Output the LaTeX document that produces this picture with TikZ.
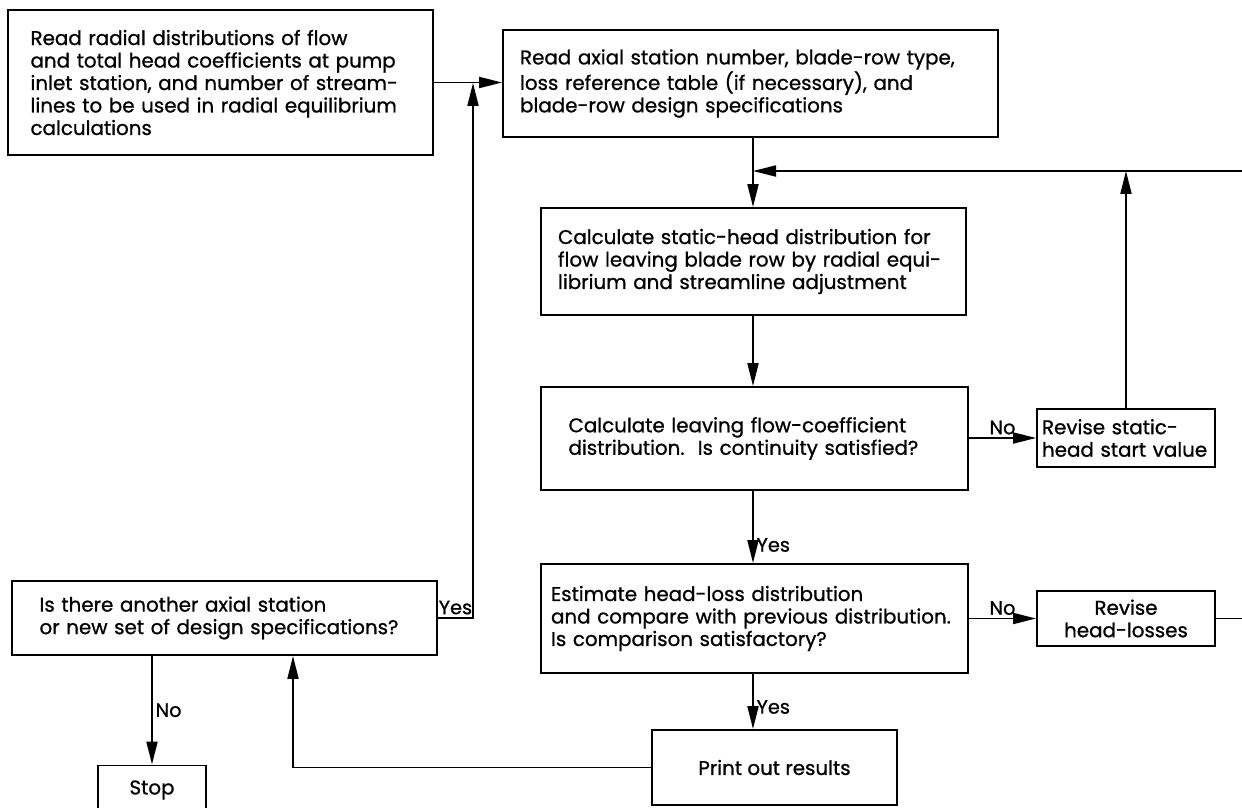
\documentclass[tikz,border=0pt]{standalone}
\usepackage{fontspec}
\setmainfont{Poppins}[FakeBold=0.9]
\usetikzlibrary{arrows.meta,positioning}

\begin{document}
\begin{tikzpicture}[
    x=0.02cm, y=-0.02cm,
    box/.style={draw, line width=1.1pt, align=left, inner ysep=0pt, font=\fontsize{11.3}{12.8}\selectfont},
    cbox/.style={box, align=center, inner xsep=0pt},
    lbl/.style={font=\fontsize{11}{12}\selectfont, inner sep=1.5pt},
    arr/.style={-{Triangle[length=0.46cm,width=0.22cm]}, line width=1.1pt}
]
\useasboundingbox (0,0) rectangle (1242,808);

\node[box, text width=7.6cm, inner xsep=0.45cm, minimum height=2.9cm] (read) at (220.5,82.5)
  {Read radial distributions of flow\\and total head coefficients at pump\\inlet station, and number of stream-\\lines to be used in radial equilibrium\\calculations};
\node[box, text width=9.22cm, inner xsep=0.34cm, minimum height=2.14cm] (axial) at (750.5,83.5)
  {Read axial station number, blade-row type,\\loss reference table (if necessary), and\\blade-row design specifications};
\node[box, text width=7.82cm, inner xsep=0.34cm, minimum height=2.14cm] (static) at (753.5,261.5)
  {Calculate static-head distribution for\\flow leaving blade row by radial equi-\\librium and streamline adjustment};
\node[box, text width=7.44cm, inner xsep=0.55cm, minimum height=2.06cm] (cont) at (754.5,438.5)
  {Calculate leaving flow-coefficient\\distribution.\ \ Is continuity satisfied?};
\node[box, text width=3.36cm, inner xsep=0.1cm, minimum height=1.16cm] (revstat) at (1126,438)
  {Revise static-\\head start value};
\node[box, text width=8.14cm, inner xsep=0.2cm, minimum height=2.18cm] (loss) at (754.5,618.5)
  {Estimate head-loss distribution\\and compare with previous distribution.\\Is comparison satisfactory?};
\node[cbox, minimum width=3.56cm, minimum height=1.1cm] (revloss) at (1126,618.5)
  {Revise\\head-losses};
\node[cbox, minimum width=4.9cm, minimum height=1.5cm] (print) at (774.5,767.5)
  {Print out results};
\node[box, text width=7.4cm, inner xsep=0.55cm, minimum height=1.48cm] (another) at (224.5,618)
  {Is there another axial station\\or new set of design specifications?};
\node[cbox, minimum width=2.16cm, minimum height=0.98cm] (stop) at (152,790)
  {Stop};

\coordinate (jn) at (473,83);
\coordinate (fb) at (753,171);
\coordinate (redge) at (1252,171);
\coordinate (ret) at (293,768);

\draw[arr] (read.east) -- (axial.west |- read.east);
\draw[arr] (another.east) -- node[lbl, above]{Yes} (another.east -| jn) -- (jn);
\draw[arr] (axial.south -| fb) -- (static.north -| fb);
\draw[arr] (static.south -| fb) -- (cont.north -| fb);
\draw[arr] (cont.south -| fb) -- node[lbl, right, pos=0.75]{Yes} (loss.north -| fb);
\draw[arr] (loss.south -| fb) -- node[lbl, right, pos=0.6]{Yes} (print.north -| fb);
\draw[arr] (cont.east |- revstat.west) -- node[lbl, above]{No} (revstat.west);
\draw[arr] (loss.east |- revloss.west) -- node[lbl, above]{No} (revloss.west);
\draw[arr] (revstat.north) -- (revstat.north |- fb);
\draw[arr] (revloss.east) -- (revloss.east -| redge) -- (redge) -- (fb);
\draw[arr] (print.west) -| (another.south -| ret);
\draw[arr] (stop.north |- another.south) -- node[lbl, right]{No} (stop.north);
\end{tikzpicture}
\end{document}
